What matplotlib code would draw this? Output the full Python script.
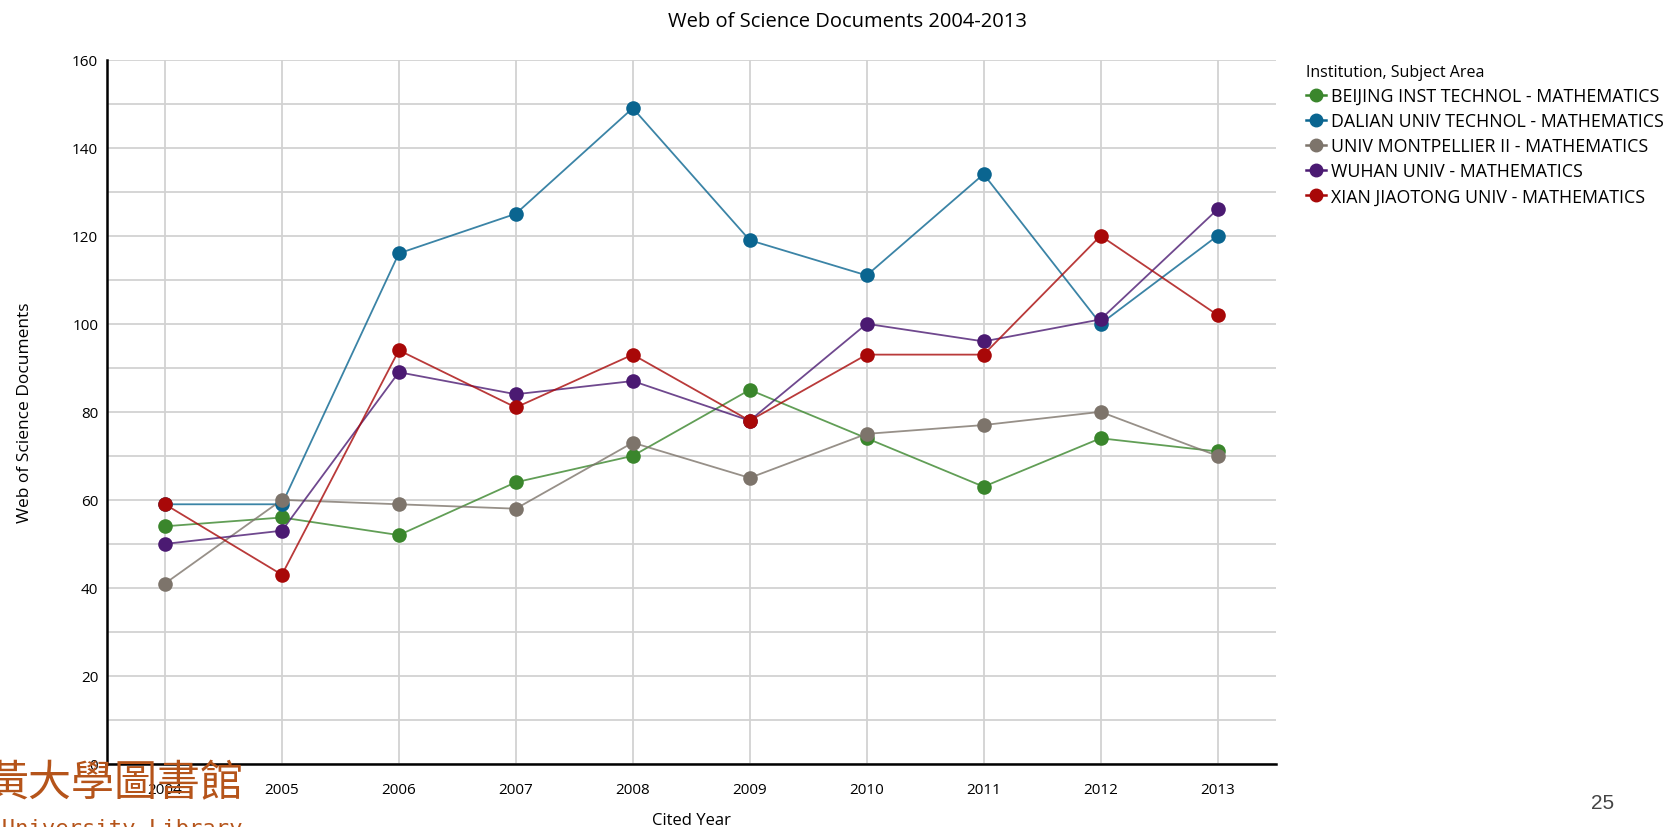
import numpy as np
import matplotlib.pyplot as plt
from matplotlib.ticker import MultipleLocator

# data
years = [2004, 2005, 2006, 2007, 2008, 2009, 2010, 2011, 2012, 2013]
beijing = [54, 56, 52, 64, 70, 85, 74, 63, 74, 71]
dalian = [59, 59, 116, 125, 149, 119, 111, 134, 100, 120]
montpellier = [41, 60, 59, 58, 73, 65, 75, 77, 80, 70]
wuhan = [50, 53, 89, 84, 87, 78, 100, 96, 101, 126]
xian = [59, 43, 94, 81, 93, 78, 93, 93, 120, 102]

names = ['BEIJING INST TECHNOL - MATHEMATICS',
         'DALIAN UNIV TECHNOL - MATHEMATICS',
         'UNIV MONTPELLIER II - MATHEMATICS',
         'WUHAN UNIV - MATHEMATICS',
         'XIAN JIAOTONG UNIV - MATHEMATICS']
colors = ['#3a862c', '#0a6590', '#7d746b', '#4b1a72', '#a80808']
series = [beijing, dalian, montpellier, wuhan, xian]

W, H = 1670, 828
plt.rcParams['font.family'] = ['Open Sans', 'DejaVu Sans']

fig = plt.figure(figsize=(W / 100, H / 100), dpi=100)
ax = fig.add_axes([106.5 / W, 1 - 765 / H, (1276 - 106.5) / W, (765 - 60.7) / H])

for vals, c, n in zip(series, colors, names):
    ax.plot(years, vals, '-', color=c, lw=1.3, alpha=0.8, zorder=3)
    ax.plot(years, vals, 'o', color=c, ms=10.5, mec='none', zorder=4)
    # legend proxy
    ax.plot([], [], '-o', color=c, lw=1.8, ms=9, label=n)

ax.set_xlim(2003.5, 2013.5)
ax.set_ylim(0, 160)
ax.set_xticks(years)
ax.yaxis.set_major_locator(MultipleLocator(20))
ax.yaxis.set_minor_locator(MultipleLocator(10))
ax.grid(True, which='both', axis='y', color='#d2d2d2', lw=1.3, zorder=0)
ax.grid(True, which='major', axis='x', color='#d2d2d2', lw=1.3, zorder=0)
ax.tick_params(which='both', length=0, labelsize=11)
ax.tick_params(axis='x', pad=13)
ax.tick_params(axis='y', pad=6)
for s in ['top', 'right']:
    ax.spines[s].set_visible(False)
ax.spines['left'].set_linewidth(1.8)
ax.spines['bottom'].set_linewidth(1.8)

fig.text(847 / W, 1 - 22 / H, 'Web of Science Documents 2004-2013',
         fontsize=14.5, ha='center', va='center')
ax.set_xlabel('Cited Year', fontsize=12, labelpad=11)
ax.set_ylabel('Web of Science Documents', fontsize=12.5, labelpad=28)

leg = ax.legend(loc='upper left', bbox_to_anchor=(1.012, 1.017), frameon=False,
                title='Institution, Subject Area', fontsize=12.8, title_fontsize=11.5,
                handlelength=1.1, handletextpad=0.3, labelspacing=0.4)
leg._legend_box.align = 'left'

# page number and library logo
fig.text(1603 / W, 1 - 804 / H, '25', fontsize=15, color='#444444',
         family='Liberation Sans', ha='center', va='center')
fig.text(243 / W, 1 - 784 / H, '黃大學圖書館', fontsize=31, color='#b5541a',
         family=['Noto Sans CJK TC', 'DejaVu Sans'], ha='right', va='center', zorder=5)
fig.text(243 / W, 1 - 819 / H, 'e University Library', fontsize=16, color='#b5541a',
         family='DejaVu Sans Mono', ha='right', va='top')

fig.savefig('out.png', dpi=100)
